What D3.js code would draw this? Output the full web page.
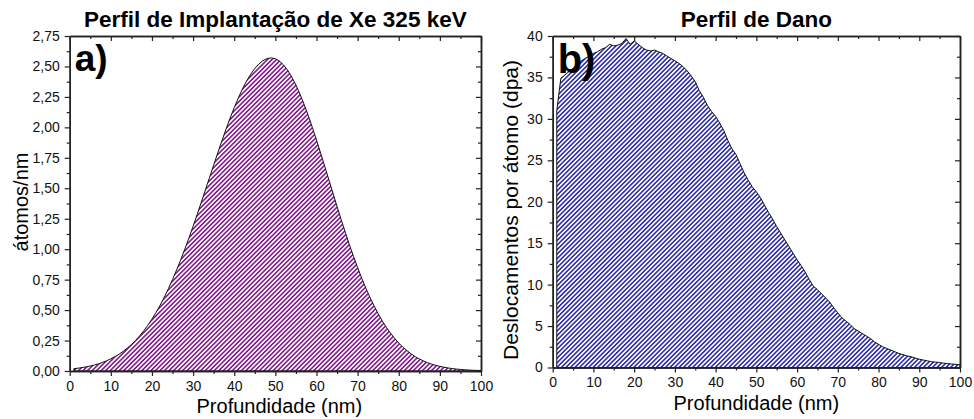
<!DOCTYPE html>
<html>
<head>
<meta charset="utf-8">
<script src="https://cdn.jsdelivr.net/npm/d3@7"></script>
<style>
  body { margin: 0; background: #fff; }
  text { font-family: "Liberation Sans", Arial, sans-serif; }
</style>
</head>
<body>
<div id="chart"></div>
<script>
// depth grid (nm), 1 nm steps
const depth = d3.range(1, 101);

// Xe implantation profile (atoms/nm), read off panel a)
const implantValues = [
  0.019, 0.023, 0.028, 0.034, 0.041, 0.049, 0.059, 0.071, 0.084, 0.100,
  0.118, 0.138, 0.161, 0.188, 0.217, 0.251, 0.288, 0.330, 0.376, 0.426,
  0.481, 0.541, 0.606, 0.676, 0.751, 0.830, 0.914, 1.002, 1.093, 1.188,
  1.286, 1.386, 1.487, 1.589, 1.690, 1.791, 1.889, 1.985, 2.076, 2.162,
  2.242, 2.315, 2.380, 2.436, 2.484, 2.521, 2.548, 2.565, 2.570, 2.564,
  2.544, 2.512, 2.469, 2.413, 2.348, 2.272, 2.188, 2.097, 1.999, 1.896,
  1.790, 1.681, 1.571, 1.460, 1.351, 1.243, 1.139, 1.037, 0.941, 0.849,
  0.762, 0.680, 0.604, 0.535, 0.470, 0.411, 0.358, 0.311, 0.268, 0.230,
  0.196, 0.167, 0.141, 0.118, 0.099, 0.083, 0.068, 0.056, 0.046, 0.038,
  0.031, 0.025, 0.020, 0.016, 0.013, 0.010, 0.008, 0.006, 0.005, 0.004
];

// damage profile (dpa), read off panel b)
const damageValues = [
  31.0, 34.9, 35.3, 35.7, 36.1, 36.5, 37.0, 37.3, 37.6, 37.9,
  38.1, 38.4, 38.6, 39.0, 38.8, 38.9, 39.1, 39.7, 39.0, 39.4,
  39.0, 38.6, 38.3, 38.2, 38.3, 38.1, 37.9, 37.6, 37.3, 37.0,
  36.7, 36.3, 35.8, 35.2, 34.5, 33.4, 32.6, 31.6, 30.9, 30.3,
  29.5, 28.6, 27.4, 26.4, 25.7, 24.6, 23.5, 22.6, 21.8, 21.2,
  20.5, 19.6, 18.7, 17.9, 17.0, 16.2, 15.4, 14.6, 13.8, 13.0,
  12.3, 11.5, 10.6, 9.8, 9.4, 8.9, 8.4, 7.9, 7.2, 6.6,
  6.0, 5.6, 5.2, 4.7, 4.4, 4.1, 3.8, 3.5, 3.1, 2.8,
  2.5, 2.3, 2.1, 1.9, 1.7, 1.55, 1.4, 1.3, 1.15, 1.0,
  0.9, 0.8, 0.7, 0.65, 0.6, 0.52, 0.47, 0.42, 0.38, 0.33
];

// ticks
const depthTicks = [0, 10, 20, 30, 40, 50, 60, 70, 80, 90, 100];
const depthMinor = [5, 15, 25, 35, 45, 55, 65, 75, 85, 95];
const implantTicks = [0, 0.25, 0.5, 0.75, 1, 1.25, 1.5, 1.75, 2, 2.25, 2.5, 2.75];
const implantMinor = [0.125, 0.375, 0.625, 0.875, 1.125, 1.375, 1.625, 1.875, 2.125, 2.375, 2.625];
const damageTicks = [0, 5, 10, 15, 20, 25, 30, 35, 40];
const damageMinor = [2.5, 7.5, 12.5, 17.5, 22.5, 27.5, 32.5, 37.5];

const svg = d3.select("#chart").append("svg")
    .attr("width", 974)
    .attr("height", 419);

const defs = svg.append("defs");
function hatch(id, color) {
    let p = defs.append("pattern")
        .attr("id", id)
        .attr("patternUnits", "userSpaceOnUse")
        .attr("width", 3.2)
        .attr("height", 10)
        .attr("patternTransform", "rotate(45)");
    p.append("rect")
        .attr("x", 0).attr("y", 0)
        .attr("width", 1.6).attr("height", 10)
        .attr("fill", color);
}
hatch("hatchA", "#861c90");
hatch("hatchB", "#3030ac");

class ProfilePanel {
    constructor(opts) {
        this.opts = opts;
        this.initVis();
    }

    initVis() {
        let vis = this;
        let o = vis.opts;

        vis.g = svg.append("g");

        vis.x = d3.scaleLinear().domain([0, 100]).range([o.left, o.right]);
        vis.y = d3.scaleLinear().domain(o.yDomain).range([o.bottom, o.top]);

        // filled profile
        let area = d3.area()
            .x((d, i) => vis.x(depth[i]))
            .y0(vis.y(0))
            .y1(d => vis.y(d));

        vis.g.append("path")
            .datum(o.values)
            .attr("d", area)
            .attr("fill", "url(#" + o.pattern + ")")
            .attr("stroke", "#111")
            .attr("stroke-width", 1);

        // axes
        vis.g.append("g")
            .attr("transform", `translate(0, ${o.bottom})`)
            .call(d3.axisBottom(vis.x).tickValues(depthTicks).tickSize(5).tickSizeOuter(0).tickPadding(5));
        vis.g.append("g")
            .attr("transform", `translate(0, ${o.bottom})`)
            .call(d3.axisBottom(vis.x).tickValues(depthMinor).tickSize(3).tickSizeOuter(0).tickFormat(""));
        vis.g.append("g")
            .attr("transform", `translate(${o.left}, 0)`)
            .call(d3.axisLeft(vis.y).tickValues(o.yTicks).tickSize(5).tickSizeOuter(0).tickPadding(5).tickFormat(o.yFormat));
        vis.g.append("g")
            .attr("transform", `translate(${o.left}, 0)`)
            .call(d3.axisLeft(vis.y).tickValues(o.yMinor).tickSize(3).tickSizeOuter(0).tickFormat(""));

        // mirror axes (inward ticks)
        vis.g.append("g")
            .attr("transform", `translate(0, ${o.top})`)
            .call(d3.axisTop(vis.x).tickValues(depthTicks).tickSize(-5).tickSizeOuter(0).tickFormat(""));
        vis.g.append("g")
            .attr("transform", `translate(0, ${o.top})`)
            .call(d3.axisTop(vis.x).tickValues(depthMinor).tickSize(-3).tickSizeOuter(0).tickFormat(""));
        vis.g.append("g")
            .attr("transform", `translate(${o.right}, 0)`)
            .call(d3.axisRight(vis.y).tickValues(o.yTicks).tickSize(-5).tickSizeOuter(0).tickFormat(""));
        vis.g.append("g")
            .attr("transform", `translate(${o.right}, 0)`)
            .call(d3.axisRight(vis.y).tickValues(o.yMinor).tickSize(-3).tickSizeOuter(0).tickFormat(""));

        vis.g.selectAll(".domain").attr("stroke", "#222").attr("stroke-width", 1.5);
        vis.g.selectAll(".tick line").attr("stroke", "#222").attr("stroke-width", 1.2);
        vis.g.selectAll(".tick text")
            .attr("font-family", "Liberation Sans, Arial, sans-serif")
            .attr("font-size", 14)
            .attr("fill", "#111");

        // titles and labels
        let cx = (o.left + o.right) / 2;
        vis.g.append("text")
            .attr("x", cx)
            .attr("y", 27)
            .attr("text-anchor", "middle")
            .attr("font-weight", "bold")
            .attr("font-size", 22.5)
            .text(o.title);

        vis.g.append("text")
            .attr("x", cx + o.xLabelShift)
            .attr("y", o.bottom + 42)
            .attr("text-anchor", "middle")
            .attr("font-size", 20)
            .text("Profundidade (nm)");

        vis.g.append("text")
            .attr("transform", `translate(${o.yLabelX}, ${o.yLabelY}) rotate(-90)`)
            .attr("text-anchor", "middle")
            .attr("font-size", o.yLabelSize)
            .text(o.yLabel);

        vis.g.append("text")
            .attr("x", o.left + 5)
            .attr("y", o.tagY)
            .attr("font-weight", "bold")
            .attr("font-size", o.tagSize)
            .text(o.tag);
    }
}

const commaFmt = f => (d => d3.format(f)(d).replace(".", ","));

new ProfilePanel({
    left: 69.7, right: 481, top: 36, bottom: 371,
    yDomain: [0, 2.75], yTicks: implantTicks, yMinor: implantMinor,
    yFormat: commaFmt(".2f"),
    values: implantValues, pattern: "hatchA",
    title: "Perfil de Implantação de Xe 325 keV",
    xLabelShift: 4,
    yLabel: "átomos/nm", yLabelX: 28, yLabelY: 202, yLabelSize: 20,
    tag: "a)", tagSize: 37, tagY: 71
});

new ProfilePanel({
    left: 552.7, right: 960, top: 36, bottom: 367.5,
    yDomain: [0, 40], yTicks: damageTicks, yMinor: damageMinor,
    yFormat: d3.format("d"),
    values: damageValues, pattern: "hatchB",
    title: "Perfil de Dano",
    xLabelShift: 0,
    yLabel: "Deslocamentos por átomo (dpa)", yLabelX: 518, yLabelY: 210, yLabelSize: 21,
    tag: "b)", tagSize: 40, tagY: 73
});
</script>
</body>
</html>
